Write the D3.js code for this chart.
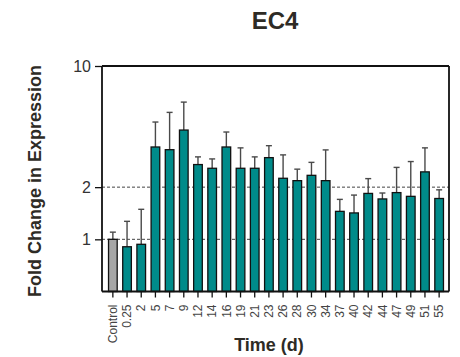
<!DOCTYPE html>
<html><head><meta charset="utf-8">
<script src="https://cdn.jsdelivr.net/npm/d3@7"></script>
<style>body{margin:0;background:#fff}svg{display:block}text{font-family:Arial,"Liberation Sans",sans-serif}</style>
</head><body>
<svg id="c" width="460" height="357"></svg>
<script>
const categories = ["Control","0.25","2","5","7","9","12","14","16","19","21","23","26","28","30","34","37","40","42","44","47","49","51","55"];
const means = [1.0,0.906,0.936,3.41,3.29,4.27,2.70,2.57,3.41,2.57,2.57,2.96,2.25,2.18,2.34,2.18,1.45,1.42,1.84,1.71,1.86,1.77,2.45,1.72];
const errTops = [1.10,1.27,1.49,4.75,5.40,6.19,2.99,2.91,4.16,3.37,2.99,3.47,3.07,2.54,2.78,3.28,1.70,1.80,2.24,1.85,2.60,2.81,3.37,1.93];
const yTicks = [1,2,10];
const refLines = [1,2];

const svg = d3.select("#c");
const L=102, R=449, T=66, B=291.5;
const x = d3.scaleBand().domain(categories).range([L+1, R]).paddingInner(0.39).paddingOuter(0.39);
const y = d3.scaleLog().domain([0.5,10]).range([B,T]);
const txt = "#2e2b25";

// reference dashed lines
svg.selectAll("line.ref").data(refLines).enter().append("line")
  .attr("x1",L).attr("x2",R).attr("y1",d=>y(d)).attr("y2",d=>y(d))
  .attr("stroke","#444").attr("stroke-width",1).attr("stroke-dasharray","3,2");

// error bars
const eg = svg.append("g");
categories.forEach((c,i)=>{
  const cx = x(c)+x.bandwidth()/2;
  eg.append("line").attr("x1",cx).attr("x2",cx).attr("y1",y(means[i])).attr("y2",y(errTops[i]))
    .attr("stroke","#4a4a4a").attr("stroke-width",1.4);
  eg.append("line").attr("x1",cx-3).attr("x2",cx+3).attr("y1",y(errTops[i])).attr("y2",y(errTops[i]))
    .attr("stroke","#4a4a4a").attr("stroke-width",1.4);
});

// bars
svg.selectAll("rect.bar").data(categories).enter().append("rect")
  .attr("x",d=>x(d)).attr("width",x.bandwidth())
  .attr("y",(d,i)=>y(means[i])).attr("height",(d,i)=>B-y(means[i]))
  .attr("fill",(d,i)=>i===0?"#a6a6a6":"#008b8a")
  .attr("stroke","#111").attr("stroke-width",1.3);

// frame top and right
svg.append("line").attr("x1",L).attr("x2",R).attr("y1",T).attr("y2",T).attr("stroke","#111").attr("stroke-width",1.8);
svg.append("line").attr("x1",R).attr("x2",R).attr("y1",T).attr("y2",B).attr("stroke","#111").attr("stroke-width",1.8);

// y axis
const ya = svg.append("g").attr("transform",`translate(${L},0)`)
  .call(d3.axisLeft(y).tickValues(yTicks).tickFormat(d3.format("d")).tickSize(7).tickPadding(4));
ya.select(".domain").attr("stroke","#111").attr("stroke-width",1.8).attr("d",`M0,${T}V${B}`);
ya.selectAll(".tick line").attr("stroke","#111").attr("stroke-width",1.3);
ya.selectAll(".tick text").attr("font-size",16).attr("fill","#333").attr("font-family","Arial, 'Liberation Sans', sans-serif");

// x axis
const xa = svg.append("g").attr("transform",`translate(0,${B})`)
  .call(d3.axisBottom(x).tickSize(6).tickPadding(4));
xa.select(".domain").attr("stroke","#111").attr("stroke-width",1.8).attr("d",`M${L},0H${R}`);
xa.selectAll(".tick line").attr("stroke","#111").attr("stroke-width",1.3);
xa.selectAll(".tick text").attr("font-size",12).attr("fill","#444")
  .attr("font-family","Arial, 'Liberation Sans', sans-serif")
  .attr("transform","rotate(-90)").attr("text-anchor","end")
  .attr("x",-13).attr("y",0).attr("dy","0.35em");

// titles
svg.append("text").attr("x",275).attr("y",29).attr("text-anchor","middle")
  .attr("font-size",24).attr("font-weight","bold").attr("fill",txt).text("EC4");
svg.append("text").attr("x",269).attr("y",351).attr("text-anchor","middle")
  .attr("font-size",18).attr("font-weight","bold").attr("fill",txt).text("Time (d)");
svg.append("text").attr("transform","translate(41,181) rotate(-90)").attr("text-anchor","middle")
  .attr("font-size",18).attr("font-weight","bold").attr("fill",txt).text("Fold Change in Expression");
</script>
</body></html>
